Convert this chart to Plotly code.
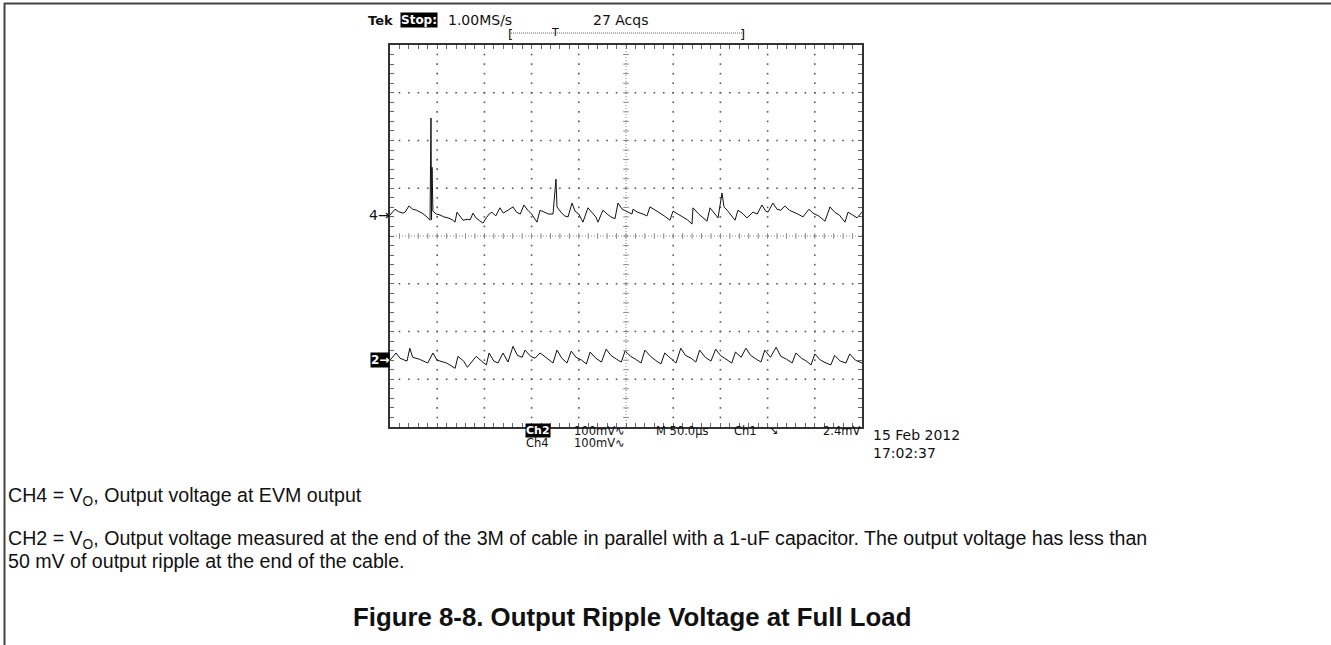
import plotly.graph_objects as go

W, H = 1331, 645

# ---- data (time in µs, 50 µs/div; voltage ripple in mV, 100 mV/div) ----
ch4_time_us = [0, 3, 5.3, 9, 13.8, 16, 20.1, 24, 28, 33.9, 38, 42.4, 43.4, 44.0, 44.5, 45.5,
               49, 53, 57, 61.4, 66, 68.9, 71, 74, 77.3, 82, 85, 87.9, 91, 95, 98.5, 102,
               105, 108, 112, 116.5, 120, 125, 130.3, 134, 138, 141.9, 146, 150, 155.7,
               158.9, 163, 168, 172.7, 175.8, 176.9, 181, 185, 188.6, 192.8, 196, 200,
               204.4, 209.7, 214, 218, 220.3, 225.6, 230, 234, 238.3, 241.5, 246, 250,
               256.3, 257.4, 262, 268, 272.2, 275.4, 280, 286, 292, 296.6, 299.8, 305,
               310, 315, 319.9, 321, 327, 332, 335.8, 339, 343, 347.5, 351.7, 353.8, 358,
               362, 365.5, 368.6, 373, 378.2, 384.5, 389, 394, 398, 400.4, 405.7, 410,
               414, 418.4, 423, 428, 432, 437.5, 443.8, 448, 454, 460.8, 466.1, 471, 476,
               482, 485.2, 490, 494.7, 500]
ch4_mv = [-2, 6, 10, 5, 2, 4, 17, 10, 8, 2, -4, -13, 201, -12, 98, 6,
          0, -2, -6, -8, -12, -17, 4, -4, -13, -11, -12, 2, -8, -14, -19, -8,
          0, 4, -4, 13, 2, 8, 15, 4, 0, 19, 8, 0, -17,
          8, 4, 0, 0, 73, 15, 4, -4, -6, 23, 6, 0,
          -17, 13, 2, -6, -17, 8, 0, -6, -10, 23, 10, 6,
          0, 10, 4, 0, -4, 15, 10, 2, -6, -13, 6, 0,
          -6, -12, -21, 13, 0, -8, -15, 13, 2, -8, 44, 15, 6,
          -4, -13, 8, 2, -8, 4, 0, 19, 6, 4, 23, 10,
          8, 17, 8, 4, 0, -6, 10, 2, -4, -15, 15, 4, -2,
          -17, 4, -2, -8, 4]

ch2_time_us = [0, 6.4, 10.6, 18, 21, 24, 31, 40, 45.5, 49.8, 60, 69, 72, 78, 82, 91.3,
               97, 102, 105, 110, 114.4, 119.7, 125, 130.3, 135, 140, 143, 149, 153.6,
               158.9, 165, 172.7, 176.9, 182, 187.5, 192, 197, 203, 208, 212, 218, 224,
               229, 234, 240, 245, 249, 255, 260, 266, 270, 276, 281, 287, 291, 297, 303,
               308, 313, 319, 324, 328, 334, 340, 345, 350, 356, 362, 366, 372, 377, 382,
               388, 393, 397, 403, 409, 414, 420, 426, 430, 436, 441, 446, 450, 456, 462,
               467, 471, 477, 483, 487, 493, 500]
ch2_mv = [0, 15, 4, -2, 25, 6, 2, -6, 15, 0, -6, -17, 8, -2, -15, 8,
          -2, -10, 15, -2, -6, 15, -4, 29, 10, 6, 21, 8, 4,
          15, 6, -6, 21, 4, -6, 19, 6, 0, -8, 17, 4, -4,
          23, 10, 2, -4, 19, 8, 2, -6, 21, 8, 0, -8, 15, 4, -6,
          25, 10, 4, -4, 21, 6, -2, 23, 10, 2, -6, 17, 6, 25, 10,
          2, -4, 21, 6, 27, 8, 2, -6, 15, 4, -2, -10, 13, 0, -6,
          -10, 10, -2, -6, 13, 0, -6]

ch4_position_div = 0.46   # "4→" ground marker position
ch2_position_div = -2.60  # "2→" ground marker position
mv_per_div = 100
us_per_div = 50
n_hdiv, n_vdiv = 10, 8

# ---- derived (via axes) ----
ch4_y = [ch4_position_div + v / mv_per_div for v in ch4_mv]
ch2_y = [ch2_position_div + v / mv_per_div for v in ch2_mv]

x_max = us_per_div * n_hdiv
minor_x = [i * us_per_div / 5 for i in range(n_hdiv * 5 + 1)]
minor_y = [-n_vdiv / 2 + i * 0.2 for i in range(n_vdiv * 5 + 1)]
major_x = [k * us_per_div for k in range(1, n_hdiv) if k != n_hdiv // 2]
major_y = [k - n_vdiv / 2 for k in range(1, n_vdiv) if k != n_vdiv // 2]

def px(x):
    return x / W

def py(y):
    return 1 - y / H

fig = go.Figure()

# graticule dots on major lines
gx, gy = [], []
for xv in major_x:
    for yv in minor_y[1:-1]:
        gx.append(xv); gy.append(yv)
for yv in major_y:
    for xv in minor_x[1:-1]:
        gx.append(xv); gy.append(yv)
fig.add_trace(go.Scatter(x=gx, y=gy, mode="markers", hoverinfo="skip",
                         marker=dict(symbol="square", size=1.6, color="#555", line=dict(width=0))))

# center cross ticks
cx = x_max / 2
fig.add_trace(go.Scatter(x=minor_x[1:-1], y=[0] * (len(minor_x) - 2), mode="markers", hoverinfo="skip",
                         marker=dict(symbol="line-ns", size=4, line=dict(width=1, color="#888"))))
fig.add_trace(go.Scatter(x=[cx] * (len(minor_y) - 2), y=minor_y[1:-1], mode="markers", hoverinfo="skip",
                         marker=dict(symbol="line-ew", size=4, line=dict(width=1, color="#888"))))

# waveforms
fig.add_trace(go.Scatter(x=ch4_time_us, y=ch4_y, mode="lines", line=dict(color="#111", width=1),
                         hoverinfo="skip"))
fig.add_trace(go.Scatter(x=ch2_time_us, y=ch2_y, mode="lines", line=dict(color="#111", width=1),
                         hoverinfo="skip"))

shapes = [
    dict(type="line", xref="x", yref="y", x0=0, x1=x_max, y0=0, y1=0,
         line=dict(color="#888", width=1, dash="1px,2px")),
    dict(type="line", xref="x", yref="y", x0=cx, x1=cx, y0=-n_vdiv / 2, y1=n_vdiv / 2,
         line=dict(color="#888", width=1, dash="1px,2px")),
    # record-view bracket line
    dict(type="line", xref="paper", yref="paper", x0=px(511), x1=px(744), y0=py(33), y1=py(33),
         line=dict(color="#666", width=1, dash="1px,1px")),
    # page borders
    dict(type="line", xref="paper", yref="paper", x0=px(4), x1=1, y0=py(3.5), y1=py(3.5),
         line=dict(color="#444", width=2)),
    dict(type="line", xref="paper", yref="paper", x0=px(4.5), x1=px(4.5), y0=0, y1=py(3),
         line=dict(color="#444", width=2)),
]

scope_font = "DejaVu Sans"
ann = []

def add_text(text, x, y, size=13, color="#111", bg=None, family=scope_font, xanchor="left", bold=False):
    if bold:
        text = "<b>" + text + "</b>"
    d = dict(text=text, xref="paper", yref="paper", x=px(x), y=py(y), xanchor=xanchor,
             yanchor="middle", showarrow=False, font=dict(family=family, size=size, color=color),
             borderpad=0)
    if bg:
        d["bgcolor"] = bg
    ann.append(d)

add_text("Tek", 367, 20, size=13, bold=True)
add_text("<b>Stop:</b>", 400, 20, size=12, color="white", bg="black")
add_text("1.00MS/s", 447, 20, size=14)
add_text("27 Acqs", 592, 20, size=14)
add_text("[", 507, 34, size=13)
add_text("]", 746, 34, size=13, xanchor="right")
add_text("T", 555, 33, size=11, xanchor="center")
add_text("4→", 391, 215, size=14, xanchor="right")
add_text("<b>2→</b>", 390, 360, size=12, color="white", bg="black", xanchor="right")
add_text("<b>Ch2</b>", 525, 430.5, size=11, color="white", bg="black")
add_text("100mV∿", 573, 430.5, size=11.5)
add_text("M 50.0µs", 655, 430.5, size=11.5)
add_text("Ch1", 733, 430.5, size=11.5)
add_text("↘", 768, 430.5, size=11)
add_text("2.4mV", 861, 430.5, size=11.5, xanchor="right")
add_text("Ch4", 525, 442.5, size=11.5)
add_text("100mV∿", 573, 442.5, size=11.5)
add_text("15 Feb 2012", 872, 435, size=14)
add_text("17:02:37", 872, 453, size=14)

cap_font = "Liberation Sans, Arial"
add_text("CH4 = V<sub>O</sub>, Output voltage at EVM output", 7, 497, size=19.6, family=cap_font)
add_text("CH2 = V<sub>O</sub>, Output voltage measured at the end of the 3M of cable in parallel with a "
         "1-uF capacitor. The output voltage has less than", 7, 539, size=19.6, family=cap_font)
add_text("50 mV of output ripple at the end of the cable.", 7, 561, size=19.6, family=cap_font)
add_text("Figure 8-8. Output Ripple Voltage at Full Load", 632, 617, size=25.8, family=cap_font,
         xanchor="center", bold=True)

axis_common = dict(showgrid=False, zeroline=False, showticklabels=False, showline=True, mirror="allticks",
                   linecolor="#333", linewidth=1.5, ticks="inside", ticklen=4, tickwidth=1,
                   tickcolor="#666")

fig.update_layout(
    width=W, height=H, margin=dict(l=0, r=0, t=0, b=0),
    paper_bgcolor="white", plot_bgcolor="white", showlegend=False,
    xaxis=dict(domain=[390 / W, 862 / W], range=[0, x_max], tick0=0, dtick=us_per_div / 5, **axis_common),
    yaxis=dict(domain=[1 - 427 / H, 1 - 45 / H], range=[-n_vdiv / 2, n_vdiv / 2], tick0=-n_vdiv / 2,
               dtick=0.2, **axis_common),
    shapes=shapes, annotations=ann,
)

fig.write_html("out.html", config={"displayModeBar": False},
               post_script="document.body.style.margin='0';document.body.style.overflow='hidden';")
